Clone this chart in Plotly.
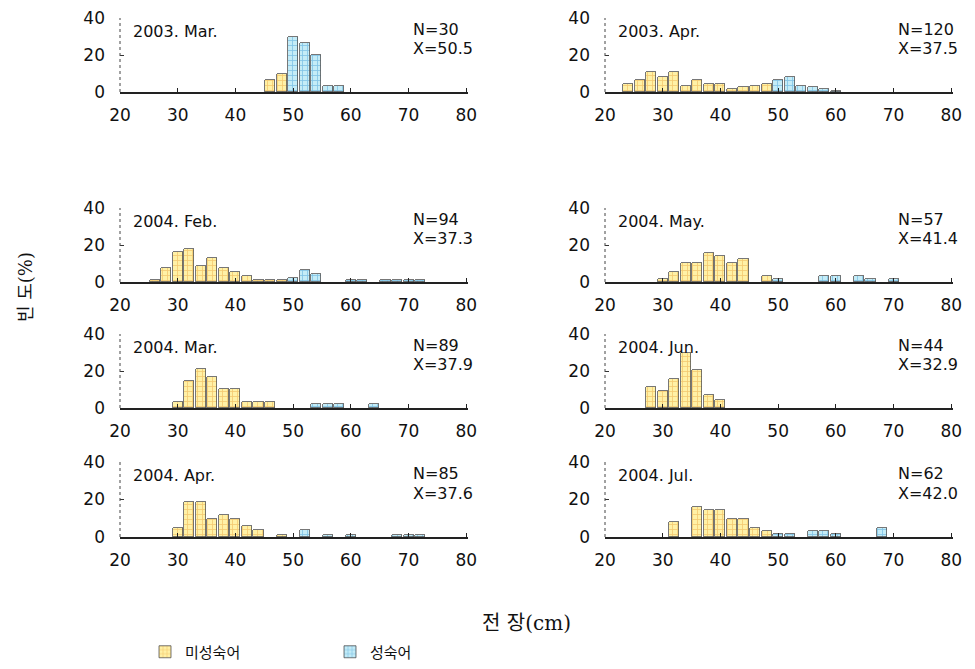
import plotly.graph_objects as go

# ---------------- data (length class centre, cm ; frequency %) ----------------
mar03_len = [46, 48, 50, 52, 54, 56, 58]
mar03_imm = [6.7, 10.0, 0, 0, 0, 0, 0]
mar03_mat = [0, 0, 30.0, 26.7, 20.0, 3.3, 3.3]

apr03_len = [24, 26, 28, 30, 32, 34, 36, 38, 40, 42, 44, 46, 48, 50, 52, 54, 56, 58, 60]
apr03_imm = [4.2, 6.7, 10.8, 8.3, 10.8, 3.3, 6.7, 4.2, 4.2, 1.7, 2.5, 3.3, 4.2, 0, 0, 0, 0, 0, 0]
apr03_mat = [0, 0, 0, 0, 0, 0, 0, 0, 0, 0, 0, 0, 0, 6.7, 8.3, 3.3, 2.5, 1.7, 0.8]

feb04_len = [26, 28, 30, 32, 34, 36, 38, 40, 42, 44, 46, 48, 50, 52, 54, 60, 62, 66, 68, 70, 72]
feb04_imm = [1.1, 7.4, 16.0, 18.1, 8.5, 12.8, 7.4, 5.3, 3.2, 1.1, 1.1, 1.1, 0, 0, 0, 0, 0, 0, 0, 0, 0]
feb04_mat = [0, 0, 0, 0, 0, 0, 0, 0, 0, 0, 0, 0, 2.1, 6.4, 4.3, 1.1, 1.1, 1.1, 1.1, 1.1, 1.1]

may04_len = [30, 32, 34, 36, 38, 40, 42, 44, 48, 50, 58, 60, 64, 66, 70]
may04_imm = [1.8, 5.3, 10.5, 10.5, 15.8, 14.0, 10.5, 12.3, 3.5, 0, 0, 0, 0, 0, 0]
may04_mat = [0, 0, 0, 0, 0, 0, 0, 0, 0, 1.8, 3.5, 3.5, 3.5, 1.8, 1.8]

mar04_len = [30, 32, 34, 36, 38, 40, 42, 44, 46, 54, 56, 58, 64]
mar04_imm = [3.4, 14.6, 21.3, 16.9, 10.1, 10.1, 3.4, 3.4, 3.4, 0, 0, 0, 0]
mar04_mat = [0, 0, 0, 0, 0, 0, 0, 0, 0, 2.2, 2.2, 2.2, 2.2]

jun04_len = [28, 30, 32, 34, 36, 38, 40]
jun04_imm = [11.4, 9.1, 15.9, 29.5, 20.5, 6.8, 4.5]
jun04_mat = [0, 0, 0, 0, 0, 0, 0]

apr04_len = [30, 32, 34, 36, 38, 40, 42, 44, 48, 52, 56, 60, 68, 70, 72]
apr04_imm = [4.7, 18.8, 18.8, 9.4, 11.8, 9.4, 5.9, 3.5, 1.2, 0, 0, 0, 0, 0, 0]
apr04_mat = [0, 0, 0, 0, 0, 0, 0, 0, 0, 3.5, 1.2, 1.2, 1.2, 1.2, 1.2]

jul04_len = [32, 36, 38, 40, 42, 44, 46, 48, 50, 52, 56, 58, 60, 68]
jul04_imm = [8.1, 16.1, 14.5, 14.5, 9.7, 9.7, 4.8, 3.2, 0, 0, 0, 0, 0, 0]
jul04_mat = [0, 0, 0, 0, 0, 0, 0, 0, 1.6, 1.6, 3.2, 3.2, 1.6, 4.8]

panel_titles = ["2003. Mar.", "2003. Apr.", "2004. Feb.", "2004. May.",
                "2004. Mar.", "2004. Jun.", "2004. Apr.", "2004. Jul."]
panel_n = ["N=30", "N=120", "N=94", "N=57", "N=89", "N=44", "N=85", "N=62"]
panel_mean = ["X=50.5", "X=37.5", "X=37.3", "X=41.4", "X=37.9", "X=32.9", "X=37.6", "X=42.0"]

x_ticks = [20, 30, 40, 50, 60, 70, 80]
y_ticks = [0, 20, 40]
series_names = ["미성숙어", "성숙어"]
x_title = "전 장(cm)"
y_title = "빈 도(%)"

panel_data = [
    (mar03_len, mar03_imm, mar03_mat), (apr03_len, apr03_imm, apr03_mat),
    (feb04_len, feb04_imm, feb04_mat), (may04_len, may04_imm, may04_mat),
    (mar04_len, mar04_imm, mar04_mat), (jun04_len, jun04_imm, jun04_mat),
    (apr04_len, apr04_imm, apr04_mat), (jul04_len, jul04_imm, jul04_mat),
]

# ---------------- layout geometry (pixels) ----------------
W, H = 975, 669
col_px = [(120, 468), (605, 953)]
row_px = [(18, 92), (208, 282), (334, 408), (462, 537)]

AX_FONT = dict(family="DejaVu Sans, sans-serif", size=17, color="#111")
LBL_FONT = dict(family="DejaVu Sans, sans-serif", size=16, color="#111")
KR_FONT = dict(family="DejaVu Serif, Noto Sans CJK KR, serif", size=20, color="#111")

imm_marker = dict(color="#FFF1A6",
                  pattern=dict(shape="+", fgcolor="#E8A23C", bgcolor="#FFF1A6", size=5, solidity=0.3),
                  line=dict(color="#555555", width=0.8))
mat_marker = dict(color="#C4ECF7",
                  pattern=dict(shape="+", fgcolor="#3F9BD4", bgcolor="#C4ECF7", size=5, solidity=0.3),
                  line=dict(color="#555555", width=0.8))

fig = go.Figure()
layout = dict(width=W, height=H, margin=dict(l=0, r=0, t=0, b=0, autoexpand=False),
              plot_bgcolor="white", paper_bgcolor="white", barmode="stack",
              bargap=0, showlegend=True)
shapes, annotations = [], []

for i, (lens, imm, mat) in enumerate(panel_data):
    r, c = divmod(i, 2)
    k = i + 1
    xn = "x" if k == 1 else f"x{k}"
    yn = "y" if k == 1 else f"y{k}"
    xk = "xaxis" if k == 1 else f"xaxis{k}"
    yk = "yaxis" if k == 1 else f"yaxis{k}"
    x0, x1 = col_px[c]
    yt, yb = row_px[r]
    layout[xk] = dict(domain=[x0 / W, x1 / W], anchor=yn, range=[20, 80.3],
                      tickvals=x_ticks, ticks="inside", ticklen=4, tickcolor="#222",
                      showline=True, linecolor="#222", linewidth=1.5, showgrid=False,
                      zeroline=False, tickfont=AX_FONT, ticklabelstandoff=7,
                      automargin=False, fixedrange=True)
    layout[yk] = dict(domain=[1 - yb / H, 1 - yt / H], anchor=xn, range=[0, 40],
                      tickvals=y_ticks, ticks="inside", ticklen=4, tickcolor="#333",
                      showline=False, showgrid=False, zeroline=False, tickfont=AX_FONT,
                      ticklabelstandoff=14, automargin=False, fixedrange=True)
    xi = [l for l, v in zip(lens, imm) if v > 0]
    yi = [v for v in imm if v > 0]
    xm = [l for l, v in zip(lens, mat) if v > 0]
    ym = [v for v in mat if v > 0]
    fig.add_trace(go.Bar(x=xi, y=yi, width=1.75, xaxis=xn, yaxis=yn, name=series_names[0],
                         legendgroup="imm", showlegend=(i == 0), marker=imm_marker))
    fig.add_trace(go.Bar(x=xm, y=ym, width=1.75, xaxis=xn, yaxis=yn, name=series_names[1],
                         legendgroup="mat", showlegend=(i == 0), marker=mat_marker))
    # dotted y-axis line
    shapes.append(dict(type="line", xref=f"{xn} domain", yref=yn, x0=0, x1=0, y0=0, y1=40,
                       line=dict(color="#444", width=1, dash="dot")))
    annotations.append(dict(xref=f"{xn} domain", yref=f"{yn} domain", x=0.033, y=0.82,
                            xanchor="left", yanchor="middle", showarrow=False,
                            text=panel_titles[i], font=LBL_FONT))
    annotations.append(dict(xref=f"{xn} domain", yref=f"{yn} domain", x=0.836, y=0.85,
                            xanchor="left", yanchor="middle", showarrow=False,
                            text=panel_n[i], font=LBL_FONT))
    annotations.append(dict(xref=f"{xn} domain", yref=f"{yn} domain", x=0.836, y=0.585,
                            xanchor="left", yanchor="middle", showarrow=False,
                            text=panel_mean[i], font=LBL_FONT))

annotations.append(dict(xref="paper", yref="paper", x=526 / W, y=1 - 623 / H,
                        xanchor="center", yanchor="middle", showarrow=False,
                        text=x_title, font=KR_FONT))
annotations.append(dict(xref="paper", yref="paper", x=25 / W, y=1 - 287 / H,
                        xanchor="center", yanchor="middle", showarrow=False, textangle=-90,
                        text=y_title, font=dict(KR_FONT, size=18)))

layout["shapes"] = shapes
layout["annotations"] = annotations
layout["legend"] = dict(orientation="h", x=145 / W, y=1 - 652 / H, xanchor="left",
                        yanchor="middle", font=dict(family="Noto Sans CJK KR, sans-serif",
                                                    size=15, color="#111"),
                        entrywidth=140, entrywidthmode="pixels", bgcolor="rgba(0,0,0,0)")
fig.update_layout(**layout)

fig.write_html("out.html", config={"displayModeBar": False},
               post_script="document.body.style.margin='0';")
